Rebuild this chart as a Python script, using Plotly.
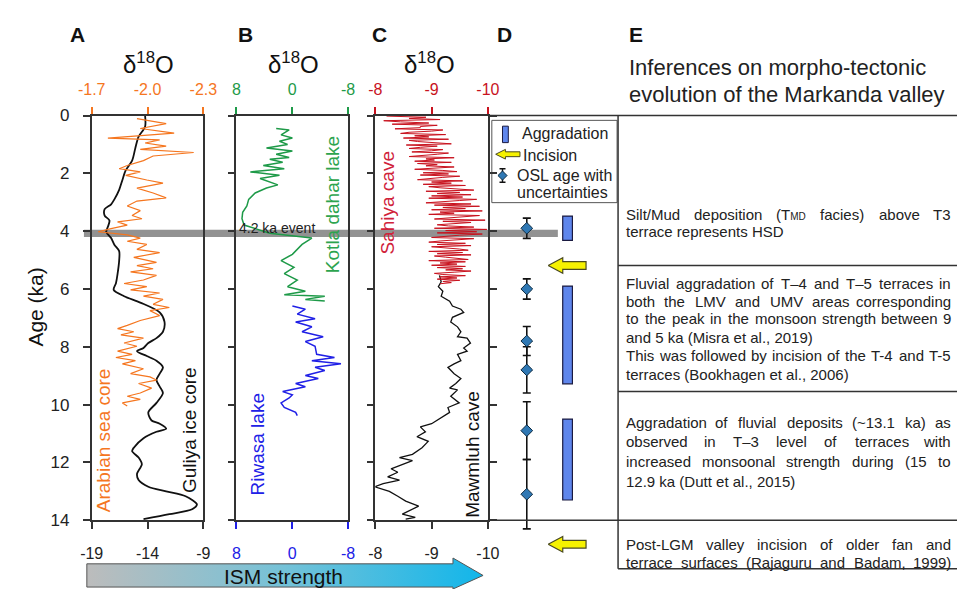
import plotly.graph_objects as go

W, H = 971, 599
FONT = "Liberation Sans, Arial, sans-serif"

# ---------------- data ----------------
age_ticks = [0, 2, 4, 6, 8, 10, 12, 14]

guliya_age = [0, 0.39, 0.73, 1.12, 1.56, 1.90, 2.23, 2.57, 2.90, 3.07, 3.24, 3.46, 3.63, 3.85, 4.02,
              4.24, 4.47, 4.69, 5.02, 5.47, 5.80, 6.03, 6.25, 6.47, 6.81, 7.14, 7.48, 7.70, 7.87,
              8.04, 8.15, 8.32, 8.48, 8.71, 8.93, 9.15, 9.38, 9.60, 9.94, 10.27, 10.55, 10.66,
              10.83, 10.94, 11.16, 11.49, 11.61, 11.83, 12.06, 12.39, 12.61, 12.84, 13.0, 13.17,
              13.45, 13.62, 13.79, 13.96]
guliya_d18o = [-14.22, -14.22, -14.8, -15.09, -15.38, -15.96, -16.25, -16.54, -16.97, -17.26, -17.84,
               -17.84, -17.41, -17.55, -17.70, -17.26, -16.97, -16.54, -16.54, -16.68, -16.83, -17.03,
               -16.10, -14.65, -12.91, -12.48, -12.62, -13.20, -13.93, -14.36, -14.94, -14.07, -13.20,
               -12.62, -12.91, -13.20, -12.91, -12.62, -13.20, -13.93, -13.64, -12.91, -12.33, -13.20,
               -14.36, -15.23, -15.38, -14.80, -14.51, -14.94, -14.80, -13.93, -12.33, -10.59, -9.58,
               -10.01, -12.04, -14.36]

arabian_age = [0.11, 0.28, 0.45, 0.61, 0.78, 0.84, 0.95, 1.06, 1.17, 1.28, 1.40, 1.56, 1.73, 1.84,
               1.95, 2.07, 2.23, 2.34, 2.51, 2.68, 2.85, 2.96, 3.13, 3.29, 3.46, 3.57, 3.68, 3.79,
               3.91, 4.02, 4.13, 4.24, 4.35, 4.46, 4.63, 4.74, 4.91, 5.08, 5.19, 5.30, 5.41, 5.53,
               5.69, 5.81, 5.92, 6.03, 6.14, 6.25, 6.36, 6.53, 6.64, 6.75, 6.92, 7.09, 7.26, 7.37,
               7.48, 7.59, 7.70, 7.87, 7.98, 8.15, 8.26, 8.37, 8.48, 8.59, 8.76, 8.93, 9.04, 9.15,
               9.27, 9.43, 9.60, 9.71, 9.82, 9.94, 10.05]
arabian_d18o = [-1.943, -2.100, -1.961, -2.143, -1.787, -2.065, -1.987, -2.100, -1.961, -2.248,
                -2.030, -1.978, -1.891, -1.848, -1.961, -1.883, -1.996, -2.083, -1.943, -2.030,
                -2.100, -1.943, -1.891, -1.961, -1.917, -1.970, -1.839, -1.891, -1.804, -1.735,
                -1.891, -1.961, -1.891, -1.996, -1.943, -2.065, -1.926, -2.048, -1.943, -2.030,
                -1.909, -2.048, -1.978, -1.874, -1.996, -1.909, -2.065, -1.978, -2.083, -2.030,
                -2.117, -2.013, -2.065, -1.961, -1.891, -1.839, -1.926, -1.857, -1.978, -1.874,
                -1.943, -1.839, -1.917, -1.830, -1.935, -1.865, -1.978, -1.909, -2.013, -2.048,
                -1.952, -2.022, -1.961, -1.891, -1.961, -1.865, -1.891]

kotla_age = [0.45, 0.50, 0.67, 0.78, 0.89, 1.00, 1.12, 1.23, 1.34, 1.45, 1.51, 1.62, 1.73, 1.84,
             1.95, 2.07, 2.18, 2.29, 2.40, 2.51, 2.68, 2.90, 3.13, 3.35, 3.57, 3.79, 4.07, 4.24,
             4.46, 4.80, 5.02, 5.25, 5.47, 5.69, 5.92, 6.08, 6.20, 6.25, 6.36, 6.42]
kotla_d18o = [2.30, 0.44, 1.60, -0.02, 1.83, 0.67, 3.69, -0.02, 2.30, 0.44, 3.22, 1.37, 4.15, 1.14,
              6.0, 1.83, 4.61, 3.22, 2.06, 3.69, 5.31, 6.24, 6.5, 7.1, 7.2, 6.9, 3.22, -2.81,
              -1.41, -0.02, 1.60, -0.25, 1.14, -0.72, 0.67, -1.88, 1.14, -4.66, -1.88, -4.66]

riwasa_age = [6.59, 6.70, 6.87, 7.03, 7.14, 7.31, 7.48, 7.65, 7.82, 7.98, 8.26, 8.37, 8.48, 8.59,
              8.71, 8.82, 8.99, 9.10, 9.27, 9.38, 9.55, 9.66, 9.77, 9.94, 10.10, 10.27, 10.38]
riwasa_d18o = [-0.02, -1.88, -0.72, -3.27, -0.49, -2.81, -1.41, -4.43, -1.88, -3.27, -3.50, -6.05,
               -2.81, -6.98, -3.27, -4.66, -1.88, -3.73, -0.49, -1.88, 1.37, -0.02, 0.44, 1.60,
               1.14, -0.49, -0.72]

sahiya_age = [0.02, 0.06, 0.10, 0.14, 0.18, 0.22, 0.26, 0.30, 0.34, 0.38,
              0.42, 0.46, 0.50, 0.54, 0.58, 0.62, 0.66, 0.70, 0.74, 0.78,
              0.82, 0.86, 0.90, 0.94, 0.98, 1.02, 1.06, 1.10, 1.14, 1.18,
              1.22, 1.26, 1.30, 1.34, 1.38, 1.42, 1.46, 1.50, 1.54, 1.58,
              1.62, 1.66, 1.70, 1.74, 1.78, 1.82, 1.86, 1.90, 1.94, 1.98,
              2.02, 2.06, 2.10, 2.14, 2.18, 2.22, 2.26, 2.30, 2.34, 2.38,
              2.42, 2.46, 2.50, 2.54, 2.58, 2.62, 2.66, 2.70, 2.74, 2.78,
              2.82, 2.86, 2.90, 2.94, 2.98, 3.02, 3.06, 3.10, 3.14, 3.18,
              3.22, 3.26, 3.30, 3.34, 3.38, 3.42, 3.46, 3.50, 3.54, 3.58,
              3.62, 3.66, 3.70, 3.74, 3.78, 3.82, 3.86, 3.90, 3.94, 3.98,
              4.02, 4.06, 4.10, 4.14, 4.18, 4.22, 4.26, 4.30, 4.34, 4.38,
              4.42, 4.46, 4.50, 4.54, 4.58, 4.62, 4.66, 4.70, 4.74, 4.78,
              4.82, 4.86, 4.90, 4.94, 4.98, 5.02, 5.06, 5.10, 5.14, 5.18,
              5.22, 5.26, 5.30, 5.34, 5.38, 5.42, 5.46, 5.50, 5.54, 5.58,
              5.62, 5.66, 5.70, 5.74, 5.78, 5.82]
sahiya_d18o = [-8.2, -8.9, -8.6, -9.15, -8.15, -8.45, -8.95, -8.3, -9.1, -8.8,
               -8.8, -8.35, -9.2, -9.0, -8.6, -8.45, -9.25, -8.7, -8.95, -8.5,
               -9.3, -8.6, -8.75, -9.05, -9.35, -8.55, -9.1, -8.8, -8.6, -9.2,
               -9.0, -8.65, -9.3, -9.1, -8.85, -8.6, -9.4, -8.9, -9.05, -8.7,
               -9.35, -8.75, -9.1, -8.9, -9.4, -8.95, -8.7, -9.2, -9.45, -8.85,
               -9.3, -8.8, -9.5, -9.2, -8.9, -8.75, -9.55, -9.0, -9.35, -8.85,
               -9.6, -8.95, -9.15, -9.4, -9.75, -8.9, -9.5, -9.1, -9.7, -9.0,
               -9.55, -8.95, -9.8, -9.5, -9.15, -8.9, -9.7, -9.05, -9.85, -9.2,
               -9.6, -9.0, -9.9, -9.15, -9.4, -8.95, -9.85, -9.6, -9.25, -9.05,
               -9.95, -9.2, -9.7, -9.45, -9.1, -9.3, -9.75, -9.05, -9.98, -9.25,
               -9.8, -9.1, -9.9, -9.5, -9.2, -9.0, -9.75, -9.4, -9.15, -8.95,
               -9.6, -9.1, -9.7, -9.0, -9.35, -9.5, -9.65, -8.95, -9.55, -9.1,
               -9.7, -9.05, -9.25, -9.5, -9.65, -8.95, -9.6, -9.15, -9.45, -9.0,
               -9.6, -9.1, -9.55, -9.25, -9.7, -9.4, -9.05, -9.2, -9.6, -9.15,
               -9.45, -9.1, -9.5, -9.2, -9.35, -9.15]

mawmluh_age = [5.53, 5.75, 5.92, 6.08, 6.25, 6.42, 6.59, 6.70, 6.81, 6.98, 7.14, 7.31, 7.48, 7.65,
               7.70, 7.87, 8.04, 8.15, 8.26, 8.48, 8.59, 8.71, 8.93, 9.10, 9.27, 9.43, 9.49, 9.71,
               9.94, 10.10, 10.27, 10.44, 10.66, 10.77, 10.94, 11.11, 11.27, 11.49, 11.72, 11.83,
               11.94, 12.11, 12.22, 12.34, 12.50, 12.61, 12.73, 12.84, 13.0, 13.17, 13.34, 13.51,
               13.62, 13.79, 13.90, 13.96]
mawmluh_d18o = [-9.14, -9.17, -9.12, -9.20, -9.17, -9.32, -9.37, -9.52, -9.57, -9.37, -9.34, -9.46,
                -9.52, -9.46, -9.63, -9.69, -9.57, -9.63, -9.46, -9.52, -9.40, -9.29, -9.40, -9.52,
                -9.43, -9.32, -9.46, -9.34, -9.49, -9.29, -9.32, -9.17, -9.0, -8.80, -8.89, -8.74,
                -8.94, -8.83, -8.66, -8.43, -8.66, -8.43, -8.28, -8.40, -8.22, -8.43, -8.14, -7.99,
                -8.25, -8.40, -8.54, -8.77, -8.66, -8.48, -8.71, -8.54]

osl_age = [3.9, 6.0, 7.8, 8.8, 10.9, 13.1]
osl_err = [0.35, 0.35, 0.5, 0.8, 1.0, 1.2]
aggr_start = [3.48, 5.9, 10.5]
aggr_end = [4.32, 9.28, 13.3]
incision_age = [5.19, 14.83]
event_band = [3.95, 4.2]

# ---------------- colours ----------------
ORANGE = "#F5761F"
GREEN = "#1E9A48"
BLUE = "#2020E6"
RED = "#C8121E"
DARK = "#222222"
LINEC = "#333333"


def fx(p):
    return p / W


def fy(p):
    return 1 - p / H


fig = go.Figure()

# Panel A
fig.add_trace(go.Scatter(x=arabian_d18o, y=arabian_age, xaxis="x2", yaxis="y", mode="lines",
                         line=dict(color=ORANGE, width=1.2), hoverinfo="skip"))
fig.add_trace(go.Scatter(x=guliya_d18o, y=guliya_age, xaxis="x", yaxis="y", mode="lines",
                         line=dict(color="#111", width=1.8, shape="spline", smoothing=0.8),
                         hoverinfo="skip"))
# Panel B
fig.add_trace(go.Scatter(x=kotla_d18o, y=kotla_age, xaxis="x4", yaxis="y2", mode="lines",
                         line=dict(color=GREEN, width=1.5), hoverinfo="skip"))
fig.add_trace(go.Scatter(x=riwasa_d18o, y=riwasa_age, xaxis="x3", yaxis="y2", mode="lines",
                         line=dict(color=BLUE, width=1.5), hoverinfo="skip"))
# Panel C
fig.add_trace(go.Scatter(x=sahiya_d18o, y=sahiya_age, xaxis="x6", yaxis="y3", mode="lines",
                         line=dict(color=RED, width=1.0), hoverinfo="skip"))
fig.add_trace(go.Scatter(x=mawmluh_d18o, y=mawmluh_age, xaxis="x5", yaxis="y3", mode="lines",
                         line=dict(color="#111", width=1.3), hoverinfo="skip"))

# Panel D
OSL_X, BAR_X, BAR_W = 0.2985, 0.612, 0.0746
fig.add_trace(go.Bar(x=[BAR_X] * len(aggr_start), y=[e - s for s, e in zip(aggr_start, aggr_end)],
                     base=aggr_start, width=BAR_W, xaxis="x7", yaxis="y4",
                     marker=dict(color="#5f86ec", line=dict(color="#1a1a40", width=1.2)),
                     hoverinfo="skip"))
fig.add_trace(go.Scatter(x=[OSL_X] * len(osl_age), y=osl_age, xaxis="x7", yaxis="y4", mode="markers",
                         marker=dict(symbol="diamond", size=9, color="#2f78b4",
                                     line=dict(color="#0d2a40", width=1)),
                         error_y=dict(type="data", array=osl_err, color="#111", thickness=1.6, width=4),
                         hoverinfo="skip"))
ax, ay = [], []
for a in incision_age:
    ax += [0.463, 0.575, 0.575, 0.754, 0.754, 0.575, 0.575, 0.463, None]
    ay += [a, a - 0.268, a - 0.134, a - 0.134, a + 0.134, a + 0.134, a + 0.268, a, None]
fig.add_trace(go.Scatter(x=ax, y=ay, xaxis="x7", yaxis="y4", mode="lines", fill="toself",
                         fillcolor="#F6F200", line=dict(color="#4a4a20", width=1.2), hoverinfo="skip"))

# Overlay (pixel frame) : ISM arrow + legend of D
ism_x = [75, 452, 452, 483, 452, 452, 75, 75]
ism_y = [573, 573, 567, 585, 599, 597, 597, 573]
fig.add_trace(go.Scatter(x=ism_x, y=ism_y, xaxis="x8", yaxis="y5", mode="lines", fill="toself",
                         fillgradient=dict(type="horizontal",
                                           colorscale=[[0, "#bcbcbc"], [0.5, "#74c2d8"], [1, "#12b6ea"]]),
                         line=dict(color="#555", width=1), hoverinfo="skip"))
lx = [496, 506, 506, 521, 521, 506, 506, 496]
ly = [150, 145, 147.5, 147.5, 152.5, 152.5, 155, 150]
fig.add_trace(go.Scatter(x=lx, y=ly, xaxis="x8", yaxis="y5", mode="lines", fill="toself",
                         fillcolor="#F6F200", line=dict(color="#4a4a20", width=1), hoverinfo="skip"))
fig.add_trace(go.Scatter(x=[503], y=[172], xaxis="x8", yaxis="y5", mode="markers",
                         marker=dict(symbol="diamond", size=7, color="#2f78b4",
                                     line=dict(color="#0d2a40", width=1)),
                         error_y=dict(type="data", array=[7], color="#111", thickness=1.4, width=3),
                         hoverinfo="skip"))

# ---------------- axes ----------------
y_dom = [fy(528), fy(110)]
TICKF = 16


def xst(**kw):
    d = dict(showgrid=False, zeroline=False, showline=True, linecolor=LINEC, linewidth=1.5,
             ticks="outside", ticklen=7, tickwidth=1.5, tickcolor=LINEC,
             tickfont=dict(size=TICKF, family=FONT, color=DARK))
    d.update(kw)
    return d


def yst(**kw):
    d = dict(showgrid=False, zeroline=False, showline=True, linecolor=LINEC, linewidth=1.5,
             ticks="outside", ticklen=7, tickwidth=1.5, tickcolor=LINEC, range=[14, 0],
             tickvals=age_ticks, domain=y_dom, tickfont=dict(size=17, family=FONT, color=DARK))
    d.update(kw)
    return d


BOT_SO, TOP_SO = 11, 5
layout = dict(
    width=W, height=H, margin=dict(l=0, r=0, t=0, b=0), showlegend=False,
    paper_bgcolor="white", plot_bgcolor="rgba(0,0,0,0)",
    xaxis=xst(domain=[fx(80), fx(195)], range=[-19, -9], anchor="y", tickvals=[-19, -14, -9],
              ticktext=["-19", "-14", "-9"], ticklabelstandoff=BOT_SO),
    xaxis2=xst(overlaying="x", side="top", anchor="y", range=[-1.7, -2.3], tickvals=[-1.7, -2.0, -2.3],
               ticktext=["-1.7", "-2.0", "-2.3"], tickcolor=ORANGE, ticklabelstandoff=TOP_SO,
               tickfont=dict(size=TICKF, family=FONT, color=ORANGE)),
    yaxis=yst(anchor="x", mirror=True, ticklabelstandoff=10),
    xaxis3=xst(domain=[fx(229), fx(344)], range=[8, -8], anchor="y2", tickvals=[8, 0, -8],
               ticktext=["8", "0", "-8"], tickcolor=BLUE, ticklabelstandoff=BOT_SO,
               tickfont=dict(size=TICKF, family=FONT, color=BLUE)),
    xaxis4=xst(overlaying="x3", side="top", anchor="y2", range=[8, -8], tickvals=[8, 0, -8],
               ticktext=["8", "0", "-8"], tickcolor=GREEN, ticklabelstandoff=TOP_SO,
               tickfont=dict(size=TICKF, family=FONT, color=GREEN)),
    yaxis2=yst(anchor="x3", mirror=True, showticklabels=False),
    xaxis5=xst(domain=[fx(372), fx(488)], range=[-8, -10], anchor="y3", tickvals=[-8, -9, -10],
               ticktext=["-8", "-9", "-10"], ticklabelstandoff=BOT_SO),
    xaxis6=xst(overlaying="x5", side="top", anchor="y3", range=[-8, -10], tickvals=[-8, -9, -10],
               ticktext=["-8", "-9", "-10"], tickcolor=RED, ticklabelstandoff=TOP_SO,
               tickfont=dict(size=TICKF, family=FONT, color=RED)),
    yaxis3=yst(anchor="x5", mirror="ticks", showticklabels=False),
    xaxis7=dict(domain=[fx(488), fx(622)], range=[0, 1], anchor="y4", visible=False),
    yaxis4=dict(domain=[fy(570), fy(110)], range=[(570 - 110) / (418 / 14), 0], anchor="x7",
                visible=False),
    xaxis8=dict(domain=[0, 1], range=[0, W], anchor="y5", visible=False),
    yaxis5=dict(domain=[0, 1], range=[H, 0], anchor="x8", visible=False),
)
fig.update_layout(**layout)

# ---------------- shapes ----------------
shapes = []
shapes.append(dict(type="rect", xref="paper", yref="y", x0=fx(72), x1=fx(560),
                   y0=event_band[0], y1=event_band[1], fillcolor="rgba(110,110,110,0.75)",
                   line=dict(width=0), layer="below"))


def hline(y, x0, x1, w=1.5):
    shapes.append(dict(type="line", xref="paper", yref="paper", x0=fx(x0), x1=fx(x1), y0=fy(y), y1=fy(y),
                       line=dict(color=LINEC, width=w)))


hline(110, 488, W)
hline(265, 622, W)
hline(395, 622, W)
hline(528, 488, W)
hline(578, 622, W)
shapes.append(dict(type="line", xref="paper", yref="paper", x0=fx(622), x1=fx(622), y0=fy(110), y1=fy(578),
                   line=dict(color=LINEC, width=1.5)))
shapes.append(dict(type="rect", xref="paper", yref="paper", x0=fx(492), x1=fx(621), y0=fy(200), y1=fy(115),
                   line=dict(color="#555", width=1), fillcolor="white", layer="below"))
shapes.append(dict(type="rect", xref="paper", yref="paper", x0=fx(503), x1=fx(509), y0=fy(138), y1=fy(121),
                   line=dict(color="#1a1a40", width=1), fillcolor="#5f86ec"))
fig.update_layout(shapes=shapes)

# ---------------- annotations ----------------
ann = []


def text(x, y, s, size=14, color=DARK, xanchor="left", angle=0, bold=False, pad=1):
    if bold:
        s = "<b>" + s + "</b>"
    ann.append(dict(xref="paper", yref="paper", x=fx(x), y=fy(y), text=s, showarrow=False,
                    xanchor=xanchor, yanchor="middle", textangle=angle, borderpad=pad, borderwidth=0,
                    font=dict(family=FONT, size=size, color=color)))


for lab, x in zip(["A", "B", "C", "D", "E"], [65, 238, 376, 505, 640]):
    text(x, 26, lab, size=21, color="#111", xanchor="center", bold=True)
for x in [138, 288, 428]:
    text(x, 56, "δ<sup>18</sup>O", size=24, color="#111", xanchor="center")
text(22, 308, "Age (ka)", size=21, color="#111", xanchor="center", angle=-90)

LBL = 19
text(93, 445, "Arabian sea core", size=LBL, color=ORANGE, xanchor="center", angle=-90)
text(180, 435, "Guliya ice core", size=LBL, color="#111", xanchor="center", angle=-90)
text(328, 202, "Kotla dahar lake", size=LBL, color="#2DA44E", xanchor="center", angle=-90)
text(251, 450, "Riwasa lake", size=LBL, color=BLUE, xanchor="center", angle=-90)
text(385, 200, "Sahiya cave", size=LBL, color="#D0223A", xanchor="center", angle=-90)
text(472, 460, "Mawmluh cave", size=LBL, color="#111", xanchor="center", angle=-90)
text(231, 226, "4.2 ka event", size=14, color="#222")

text(278, 586, "ISM strength", size=21, color="#111", xanchor="center", pad=0)

text(522, 129, "Aggradation", size=16)
text(523, 151, "Incision", size=16)
text(517, 172, "OSL age with", size=16)
text(517, 190, "uncertainties", size=16)

text(632, 60, "Inferences on morpho-tectonic", size=22)
text(632, 88, "evolution of the Markanda valley", size=22)

# ---- panel E paragraphs (justified like the reference) ----
AW = {' ': 278, '(': 333, ')': 333, ',': 278, '-': 333, '.': 278, '/': 278, '~': 584, '\u2013': 556,
      'A': 667, 'B': 667, 'C': 722, 'D': 722, 'E': 667, 'F': 611, 'G': 778, 'H': 722, 'I': 278,
      'J': 500, 'K': 667, 'L': 556, 'M': 833, 'N': 722, 'O': 778, 'P': 667, 'Q': 778, 'R': 722,
      'S': 667, 'T': 611, 'U': 722, 'V': 667, 'W': 944, 'X': 667, 'Y': 667, 'Z': 611,
      'a': 556, 'b': 556, 'c': 500, 'd': 556, 'e': 556, 'f': 278, 'g': 556, 'h': 556, 'i': 222,
      'j': 222, 'k': 500, 'l': 222, 'm': 833, 'n': 556, 'o': 556, 'p': 556, 'q': 556, 'r': 333,
      's': 500, 't': 278, 'u': 556, 'v': 500, 'w': 722, 'x': 500, 'y': 500, 'z': 500}
ESZ = 15
SMALL = 10


def tw(s, size):
    return sum(AW.get(c, 556) for c in s) * size / 1000.0


def word(wd):
    if wd == "(TMD":
        return "(T<span style='font-size:%dpx'>MD</span>" % SMALL, tw("(T", ESZ) + tw("MD", SMALL)
    return wd, tw(wd, ESZ)


XL, XR = 630, 965
e_lines = [
    (212, "Silt/Mud deposition (TMD facies) above T3", True),
    (230, "terrace represents HSD", False),
    (283, "Fluvial aggradation of T\u20134 and T\u20135 terraces in", True),
    (302, "both the LMV and UMV areas corresponding", True),
    (320, "to the peak in the monsoon strength between 9", True),
    (339, "and 5 ka (Misra et al., 2019)", False),
    (358, "This was followed by incision of the T-4 and T-5", True),
    (377, "terraces (Bookhagen et al., 2006)", False),
    (427, "Aggradation of fluvial deposits (~13.1 ka) as", True),
    (447, "observed in T\u20133 level of terraces with", True),
    (467, "increased monsoonal strength during (15 to", True),
    (488, "12.9 ka (Dutt et al., 2015)", False),
    (553, "Post-LGM valley incision of older fan and", True),
    (572, "terrace surfaces (Rajaguru and Badam, 1999)", True),
]
for y, s, just in e_lines:
    words = [word(w) for w in s.split(" ")]
    if not just:
        text(XL, y, " ".join(w[0] for w in words), size=ESZ, pad=0)
        continue
    total = sum(w[1] for w in words)
    gap = max((XR - XL - total) / (len(words) - 1), 3.0)
    xpos = XL
    for i, (t, w) in enumerate(words):
        if i == len(words) - 1:
            text(XR, y, t, size=ESZ, xanchor="right", pad=0)
        else:
            text(xpos, y, t, size=ESZ, pad=0)
        xpos += w + gap

fig.update_layout(annotations=ann)

fig.write_html("out.html")
